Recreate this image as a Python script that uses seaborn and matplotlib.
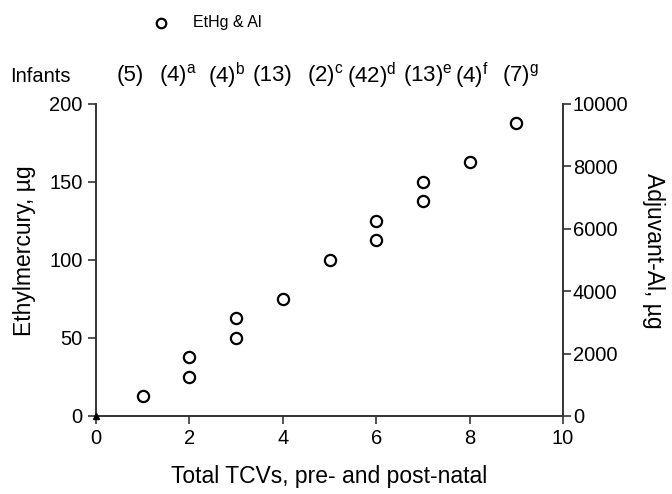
import matplotlib
matplotlib.use("Agg")
import matplotlib.pyplot as plt
import seaborn as sns
import pandas as pd

# data
tcvs = [1, 2, 2, 3, 3, 4, 5, 6, 6, 7, 7, 8, 9]
ethg = [12.5, 25, 37.5, 50, 62.5, 75, 100, 112.5, 125, 137.5, 150, 162.5, 187.5]
infants = ["(5)", "(4)$^{\\mathrm{a}}$", "(4)$^{\\mathrm{b}}$", "(13)", "(2)$^{\\mathrm{c}}$",
           "(42)$^{\\mathrm{d}}$", "(13)$^{\\mathrm{e}}$", "(4)$^{\\mathrm{f}}$", "(7)$^{\\mathrm{g}}$"]
label_x = [0.73, 1.76, 2.8, 3.77, 4.9, 5.9, 7.1, 8.05, 9.08]

df = pd.DataFrame({"TCV": tcvs, "EtHg": ethg})

sns.set_style("ticks")
plt.rcParams["font.family"] = ["Liberation Sans", "DejaVu Sans"]
plt.rcParams["mathtext.fontset"] = "custom"
plt.rcParams["mathtext.rm"] = "Liberation Sans"
plt.rcParams["text.color"] = "black"
plt.rcParams["axes.labelcolor"] = "black"

fig = plt.figure(figsize=(6.72, 4.94), dpi=100)
ax = fig.add_axes([0.1429, 0.158, 0.695, 0.632])

sns.scatterplot(data=df, x="TCV", y="EtHg", ax=ax, marker="o", s=65,
                facecolor="white", edgecolor="black", linewidth=1.6,
                label="EtHg & Al", legend=False, zorder=3, clip_on=False)
ax.plot([0], [0], marker="^", color="black", markersize=5, clip_on=False, zorder=4)

ax.set_xlim(0, 10)
ax.set_ylim(0, 200)
ax.set_xticks(range(0, 11, 2))
ax.set_yticks(range(0, 201, 50))
ax.tick_params(labelsize=14.5, length=6, width=1.2, color="#333333", labelcolor="black")
for s in ["left", "bottom"]:
    ax.spines[s].set_linewidth(1.4)
    ax.spines[s].set_color("#333333")
ax.spines["top"].set_visible(False)
ax.spines["right"].set_visible(False)
ax.set_xlabel("Total TCVs, pre- and post-natal", fontsize=16.5, labelpad=12)
ax.set_ylabel("Ethylmercury, \u00b5g", fontsize=16.5)
ax.yaxis.set_label_coords(-0.128, 0.53)

ax2 = ax.twinx()
ax2.set_ylim(0, 10000)
ax2.set_yticks(range(0, 10001, 2000))
ax2.tick_params(labelsize=14.5, length=6, width=1.2, color="#333333", pad=1, labelcolor="black")
for s in ["left", "bottom", "top"]:
    ax2.spines[s].set_visible(False)
ax2.spines["right"].set_linewidth(1.4)
ax2.spines["right"].set_color("#333333")
ax2.set_ylabel("Adjuvant-Al, \u00b5g", fontsize=16.5, rotation=270)
ax2.yaxis.set_label_coords(1.218, 0.53)

# infant counts row
for xp, lab in zip(label_x, infants):
    ax.text(xp, 1.09, lab, transform=ax.get_xaxis_transform(), ha="center",
            va="center", fontsize=16)
fig.text(0.015, 0.845, "Infants", fontsize=14.5, ha="left", va="center")

h, l = ax.get_legend_handles_labels()
fig.legend(h, l, loc="center left", bbox_to_anchor=(0.195, 0.955), frameon=False,
           fontsize=11.5, handletextpad=1.0, markerscale=0.85)

fig.savefig("out.png", dpi=100)
